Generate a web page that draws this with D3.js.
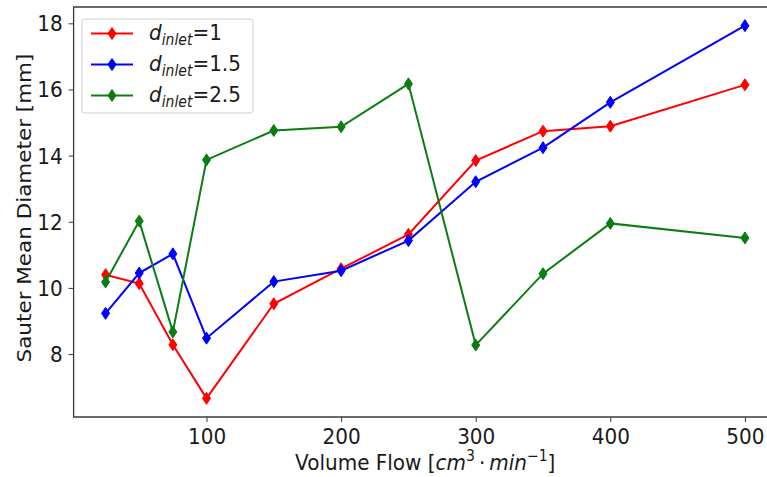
<!DOCTYPE html>
<html>
<head>
<meta charset="utf-8">
<script src="https://cdn.jsdelivr.net/npm/d3@7"></script>
<style>
  html, body { margin: 0; padding: 0; background: #fff; }
  svg { display: block; font-family: "DejaVu Sans", sans-serif; }
</style>
</head>
<body>
<svg id="chart" width="767" height="477"></svg>
<script>
// ---- data ----
const volumeFlow = [25, 50, 75, 100, 150, 200, 250, 300, 350, 400, 500];
const inlet1   = [10.40, 10.13, 8.28, 6.66, 9.52, 10.58, 11.62, 13.85, 14.74, 14.89, 16.14];
const inlet15  = [9.23, 10.45, 11.03, 8.48, 10.19, 10.52, 11.43, 13.21, 14.24, 15.61, 17.93];
const inlet25  = [10.18, 12.02, 8.67, 13.87, 14.76, 14.87, 16.17, 8.27, 10.43, 11.95, 11.51];
const seriesNames = ["1", "1.5", "2.5"];
const seriesColors = ["#ff0000", "#0000ff", "#0a7d12"];
const xTicks = [100, 200, 300, 400, 500];
const yTicks = [8, 10, 12, 14, 16, 18];

const series = [inlet1, inlet15, inlet25].map((vals, i) => ({
  name: seriesNames[i], color: seriesColors[i],
  points: vals.map((v, j) => ({ x: volumeFlow[j], y: v }))
}));

// ---- layout ----
const FS = 20;        // font size
const SY = 1.075;     // vertical stretch of glyphs in the reference
const svg = d3.select("#chart");
const plot = { left: 73.6, right: 776.9, top: 7, bottom: 417 };

const xExt = d3.extent(volumeFlow);
const xPad = (xExt[1] - xExt[0]) * 0.05;
const allY = [].concat(inlet1, inlet15, inlet25);
const yExt = d3.extent(allY);
const yPad = (yExt[1] - yExt[0]) * 0.05;

const x = d3.scaleLinear().domain([xExt[0] - xPad, xExt[1] + xPad]).range([plot.left, plot.right]);
const y = d3.scaleLinear().domain([yExt[0] - yPad, yExt[1] + yPad]).range([plot.bottom, plot.top]);

svg.append("rect").attr("width", 767).attr("height", 477).attr("fill", "#fff");

function stretch(sel, ax, ay) {
  sel.attr("transform", `translate(${ax},${ay}) scale(1,${SY}) translate(${-ax},${-ay})`);
}

// axes
const axisColor = "#3a3a3a";
const xAxis = svg.append("g")
  .attr("transform", `translate(0,${plot.bottom})`)
  .call(d3.axisBottom(x).tickValues(xTicks).tickSize(5).tickFormat(d3.format("d")));
const yAxis = svg.append("g")
  .attr("transform", `translate(${plot.left},0)`)
  .call(d3.axisLeft(y).tickValues(yTicks).tickSize(5).tickPadding(6).tickFormat(d3.format("d")));
[xAxis, yAxis].forEach(g => {
  g.select(".domain").remove();
  g.selectAll(".tick line").attr("stroke", axisColor).attr("stroke-width", 1);
  g.selectAll(".tick text").attr("fill", "#1a1a1a").style("font-size", FS + "px")
    .style("font-family", "'DejaVu Sans', sans-serif");
});
xAxis.selectAll(".tick text").attr("dy", null).attr("y", 27).each(function () { stretch(d3.select(this), 0, 27); });
yAxis.selectAll(".tick text").attr("dy", null).attr("y", 7.5).each(function () { stretch(d3.select(this), -11, 7.5); });

// spines (left, top, bottom; right is outside the canvas)
svg.append("path")
  .attr("d", `M${plot.right},${plot.top}H${plot.left}V${plot.bottom}H${plot.right}`)
  .attr("fill", "none").attr("stroke", axisColor).attr("stroke-width", 1.3);

// lines and markers
const line = d3.line().x(d => x(d.x)).y(d => y(d.y));
const diamond = "M0,-6L4,0L0,6L-4,0Z";
const gPlot = svg.append("g");
series.forEach(s => {
  gPlot.append("path").datum(s.points).attr("d", line)
    .attr("fill", "none").attr("stroke", s.color).attr("stroke-width", 2);
  gPlot.selectAll(null).data(s.points).enter().append("path")
    .attr("d", diamond)
    .attr("transform", d => `translate(${x(d.x)},${y(d.y)})`)
    .attr("fill", s.color).attr("stroke", s.color).attr("stroke-width", 1);
});

// legend
const lg = svg.append("g");
lg.append("rect").attr("x", 82).attr("y", 19).attr("width", 171).attr("height", 94)
  .attr("rx", 3).attr("fill", "#fff").attr("fill-opacity", 0.8)
  .attr("stroke", "#cfcfcf").attr("stroke-width", 1);
series.forEach((s, i) => {
  const cy = 33.5 + i * 31;
  lg.append("line").attr("x1", 91).attr("x2", 133).attr("y1", cy).attr("y2", cy)
    .attr("stroke", s.color).attr("stroke-width", 2);
  lg.append("path").attr("d", diamond).attr("transform", `translate(112,${cy})`)
    .attr("fill", s.color).attr("stroke", s.color);
  const by = cy + 7;
  const t = lg.append("text").attr("x", 149).attr("y", by)
    .style("font-size", FS + "px").attr("fill", "#1a1a1a");
  t.append("tspan").text("d").style("font-style", "italic");
  t.append("tspan").text("inlet").style("font-style", "italic").style("font-size", "14px").attr("dy", 4);
  t.append("tspan").text("=" + s.name).attr("dy", -4);
  stretch(t, 149, by);
});

// axis labels
const xl = svg.append("text").attr("x", (plot.left + plot.right) / 2).attr("y", 470)
  .attr("text-anchor", "middle").style("font-size", FS + "px").attr("fill", "#1a1a1a");
xl.append("tspan").text("Volume Flow [");
xl.append("tspan").text("cm").style("font-style", "italic");
xl.append("tspan").text("3").style("font-size", "14px").attr("dy", -8);
xl.append("tspan").text("\u2009·\u2009").attr("dy", 8);
xl.append("tspan").text("min").style("font-style", "italic");
xl.append("tspan").text("−1").style("font-size", "14px").attr("dy", -8);
xl.append("tspan").text("]").attr("dy", 8);
stretch(xl, (plot.left + plot.right) / 2, 470);

svg.append("text")
  .attr("transform", `translate(31,${(plot.top + plot.bottom) / 2 - 4}) rotate(-90) scale(${SY},1)`)
  .attr("text-anchor", "middle").style("font-size", FS + "px").attr("fill", "#1a1a1a")
  .text("Sauter Mean Diameter [mm]");
</script>
</body>
</html>
